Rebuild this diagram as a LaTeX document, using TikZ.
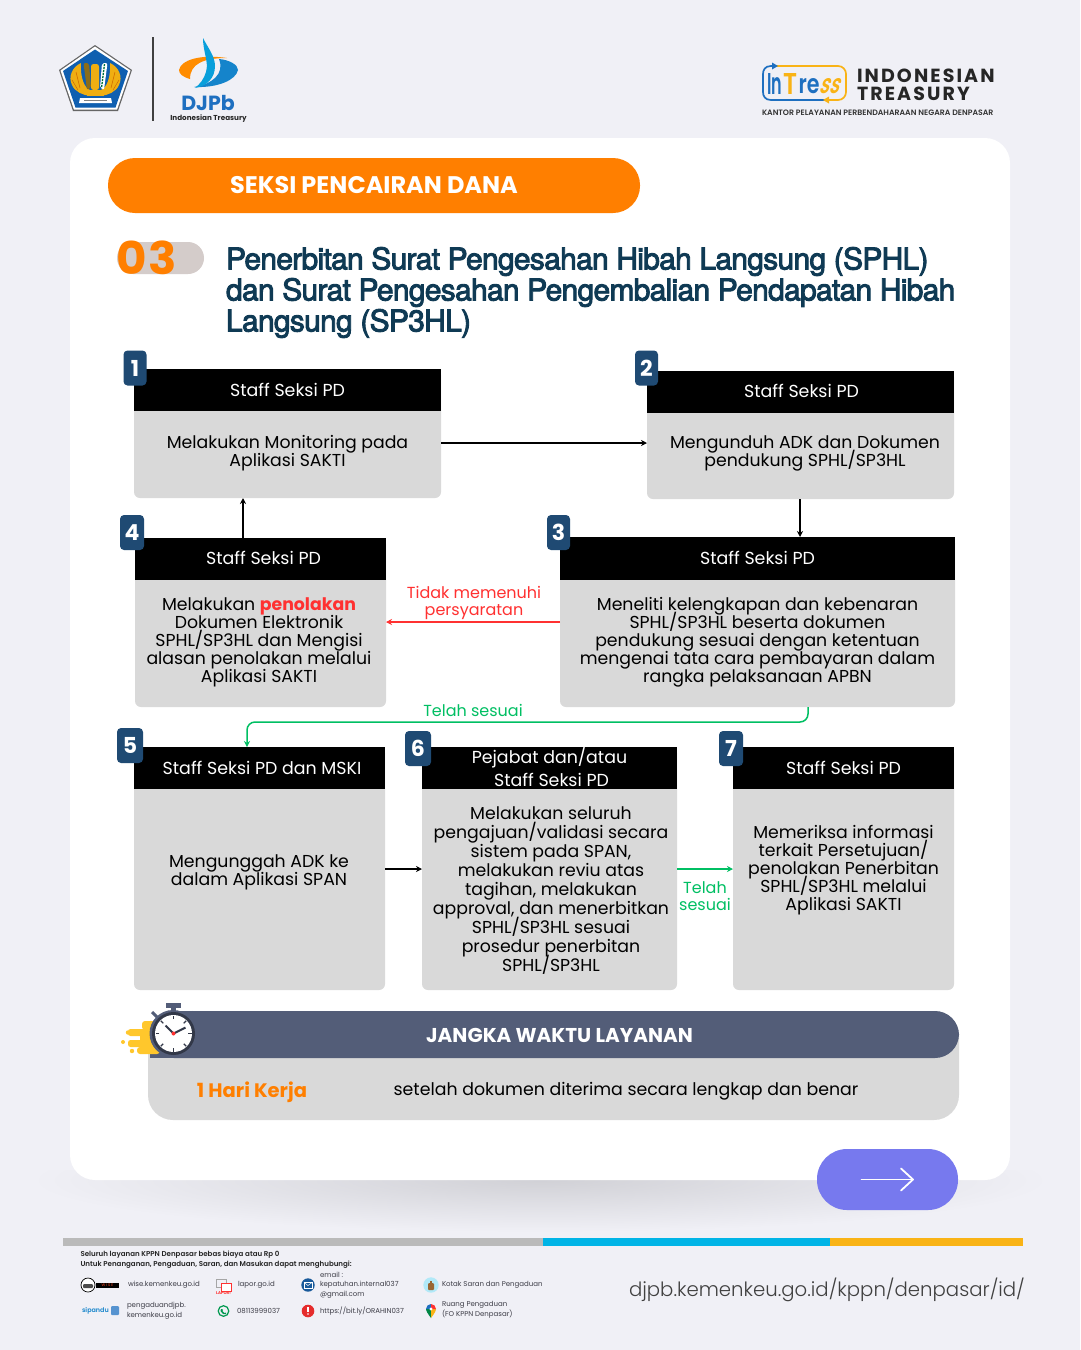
\documentclass[tikz,border=0pt]{standalone}
\usepackage{fontspec}
\setmainfont{Poppins}
\newfontfamily\psemi{Poppins SemiBold}
\newfontfamily\ptitle{TeX Gyre Heros}[LetterSpace=-2.4,FakeBold=3]
\newfontfamily\pbold{Poppins}[UprightFont=* Bold]
\newfontfamily\plight{Poppins Light}
\newfontfamily\pspaced{Poppins}[UprightFont=* Bold,LetterSpace=11]
\usetikzlibrary{arrows.meta}
\definecolor{bgc}{HTML}{F0F0F6}
\definecolor{cardg}{HTML}{D9D9D9}
\definecolor{orng}{HTML}{FF7F00}
\definecolor{navy}{HTML}{1F4A73}
\definecolor{titlec}{HTML}{0F3A54}
\definecolor{slatec}{HTML}{535D78}
\definecolor{grn}{HTML}{00BF63}
\definecolor{redc}{HTML}{FF3131}
\definecolor{violetc}{HTML}{7779EE}
\definecolor{goldc}{HTML}{FFC72C}
\definecolor{blu}{HTML}{1E6FC0}
\definecolor{kblue}{HTML}{0F5FB0}
\definecolor{kgold}{HTML}{EFAE12}
\definecolor{lblue}{HTML}{00B4E6}
\definecolor{ylw}{HTML}{F9B316}
\definecolor{ftxt}{HTML}{3C3C46}
\definecolor{pillc}{HTML}{D4CCCA}
\newcommand{\fs}[2]{\fontsize{#1}{#2}\selectfont\lineskiplimit=-100pt\relax}
\tikzset{
 x=1pt,y=-1pt,
 every node/.style={inner sep=0pt,outer sep=0pt},
 cardbody/.style={fill=cardg,rounded corners=6pt,anchor=north west},
 bodytxt/.style={align=center,font=\fs{17.3}{18},text=black},
 badge/.style={fill=navy,rounded corners=4pt,text=white,font=\pbold\fs{22}{22},minimum width=23pt,minimum height=35pt},
 conn/.style={line width=1.5pt,-{Stealth[length=6pt,width=6pt]}},
 lab/.style={align=center,font=\fs{16}{17}},
 ft/.style={anchor=west,align=left,font=\fs{7}{9.6},text=ftxt},
}
% [head text shift], name, x1, y1, x2, y2, head bottom, head text
\newcommand{\card}[8][]{%
 \node[cardbody,minimum width={#5-#3},minimum height={#6-#4}] (#2) at (#3,#4) {};
 \fill[black] (#3,#4) rectangle (#5,#7);
 \node[text=white,align=center,font=\fs{17.4}{23},#1] (#2h) at ({(#3+#5)/2},{(#4+#7)/2}) {#8};
}
\begin{document}
\begin{tikzpicture}
\useasboundingbox (0,0) rectangle (1080,1350);
\fill[bgc] (0,0) rectangle (1080,1350);
% panel soft shadow below
\begin{scope}
\clip (0,1170) rectangle (1080,1240);
\shade[inner color=black!13!bgc,outer color=bgc] (540,1180) ellipse[x radius=510pt,y radius=52pt];
\end{scope}
\fill[white,rounded corners=25pt] (70,138) rectangle (1010,1180);

% ---- top left logo
\fill[black!60!white] (59,70) -- (95,45) -- (132,70) -- (118,111) -- (73,111) -- cycle;
\fill[white] (60.5,70.5) -- (95,46.5) -- (130.5,70.5) -- (117,109.7) -- (74,109.7) -- cycle;
\fill[kblue] (63,71) -- (95,49.5) -- (128,71) -- (115.5,107.5) -- (75.5,107.5) -- cycle;
\fill[kgold] (81,63) .. controls (72,67) and (68,77) .. (72,85) .. controls (75,92) and (83,95) .. (90,96) -- (90,90) .. controls (84,88) and (80,76) .. (81,63) -- cycle;
\fill[kgold] (110,63) .. controls (119,67) and (123,77) .. (119,85) .. controls (116,92) and (108,95) .. (101,96) -- (101,90) .. controls (107,88) and (111,76) .. (110,63) -- cycle;
\draw[orange!80!black,line width=.5pt] (76,72) -- (80,88) (72,80) -- (78,90) (115,72) -- (111,88) (119,80) -- (113,90);
\fill[goldc!55!black,rounded corners=2pt] (83.5,63) -- (89,63) -- (91,88) -- (87,90) -- cycle;
\fill[kgold,rounded corners=2.5pt] (91,64) rectangle (99,90);
\fill[white,rounded corners=2pt] (102,63) -- (107.5,63) -- (104,90) -- (100,88) -- cycle;
\draw[grn!60!black,line width=1.3pt,dash pattern=on 2pt off 1pt] (104.5,64) -- (101.5,88);
\fill[kgold] (87,90) rectangle (104,96);
\fill[white] (80,98) -- (111,98) -- (112,103) -- (79,103) -- cycle;
\draw[black!50,line width=.8pt] (84,100.5) -- (107,100.5);
\draw[black!75!white,line width=1.6pt] (152.7,37) -- (152.7,121);
% DJPb mark
\fill[orange!90!yellow] (179,70) .. controls (181,60) and (200,54) .. (227,58) .. controls (203,58) and (190,64) .. (190,79) .. controls (183,77) and (179,74) .. (179,70) -- cycle;
\fill[blu!70!lblue] (238,70) .. controls (236,80) and (218,88) .. (194,87) .. controls (212,84) and (225,74) .. (219,59) .. controls (230,60) and (238,65) .. (238,70) -- cycle;
\fill[lblue!70!blu] (203,38) .. controls (203,52) and (209,62) .. (206,72) .. controls (204,79) and (200,84) .. (195,88) .. controls (207,86) and (215,78) .. (215,66) .. controls (215,56) and (208,48) .. (203,38) -- cycle;
\node[font=\pbold\fs{20.5}{20},text=blu] (djpb) at (208,103) {DJPb};
\node[font=\pbold\fs{7.2}{8},text=black!85] (djpbs) at (208.5,118.5) {Indonesian Treasury};
% InTress logo
\draw[blu,line width=1.7pt] (826,100) -- (771,100) .. controls (765,100) and (763,96) .. (763,92) -- (763,74) .. controls (763,70) and (765,66) .. (771,66) -- (775,66);
\draw[ylw,line width=1.7pt] (775,66) -- (838,66) .. controls (843,66) and (846,70) .. (846,74) -- (846,92) .. controls (846,96) and (843,100) .. (838,100) -- (826,100);
\fill[blu] (772,62.5) -- (778,66) -- (772,69.5) -- cycle;
\fill[ylw] (829,96.5) -- (823,100) -- (829,103.5) -- cycle;
\node[font=\psemi,text=blu] (intr1) at (775,84) {\resizebox{15pt}{21pt}{In}};
\node[font=\psemi,text=ylw] (intr2) at (790.5,84) {\resizebox{14pt}{21pt}{T}};
\node[font=\psemi,text=blu] (intr3) at (809,86.5) {\resizebox{21pt}{15pt}{re}};
\node[font=\psemi,text=ylw,xslant=0.35] (intr4) at (831,86.5) {\resizebox{20pt}{15pt}{ss}};
\node[anchor=west,font=\pspaced\fs{19}{19},text=black!85] (indo1) at (857,76) {INDONESIAN};
\node[anchor=west,font=\pspaced\fs{19}{19},text=black!85] (indo2) at (857,94) {TREASURY};
\node[anchor=west,font=\psemi\fs{7.8}{8},text=black!80] (kantor) at (762,112.5) {KANTOR PELAYANAN PERBENDAHARAAN NEGARA DENPASAR};

% ---- heading
\node[fill=orng,rounded corners=27pt,minimum width=532pt,minimum height=55pt,text=white,font=\pbold\fs{24}{24}] (hdr) at (374,185.5) {SEKSI PENCAIRAN DANA};
\node[fill=pillc,rounded corners=16pt,minimum width=87pt,minimum height=32pt] (pill) at (160.5,258) {};
\node[anchor=west,font=\pbold\fs{45}{46},text=orng] (n03) at (116.5,258) {\scalebox{1.04}[1]{0\hspace{1.2pt}3}};
\node[anchor=north west,align=left,font=\ptitle\fs{30}{31},text=titlec] (title) at (226,247) {Penerbitan Surat Pengesahan Hibah Langsung (SPHL)\\dan Surat Pengesahan Pengembalian Pendapatan Hibah\\Langsung (SP3HL)};

% ---- cards
\card[yshift=.5pt]{c1}{134}{369}{441}{498}{411}{Staff Seksi PD}
\card[xshift=1pt,yshift=1.5pt]{c2}{647}{371}{954}{499}{413}{Staff Seksi PD}
\card[yshift=1pt]{c3}{560}{537}{955}{707}{580}{Staff Seksi PD}
\card[xshift=3pt,yshift=1pt]{c4}{135}{538}{386}{707}{580}{Staff Seksi PD}
\card[xshift=2.5pt]{c5}{134}{747}{385}{990}{789}{Staff Seksi PD dan MSKI}
\card[yshift=1pt]{c6}{422}{747}{677}{990}{789}{Pejabat dan/atau\\\hspace*{4pt}Staff Seksi PD}
\card{c7}{733}{747}{954}{990}{789}{Staff Seksi PD}
\node[bodytxt] (t1) at (287.5,453) {Melakukan Monitoring pada\\Aplikasi SAKTI};
\node[bodytxt] (t2) at (805,453) {Mengunduh ADK dan Dokumen\\pendukung SPHL/SP3HL};
\node[bodytxt] (t3) at (757.5,642) {Meneliti kelengkapan dan kebenaran\\SPHL/SP3HL beserta dokumen\\pendukung sesuai dengan ketentuan\\mengenai tata cara pembayaran dalam\\rangka pelaksanaan APBN};
\node[bodytxt] (t4) at (259,642) {Melakukan {\pbold\color{redc}penolakan}\\Dokumen Elektronik\\SPHL/SP3HL dan Mengisi\\alasan penolakan melalui\\Aplikasi SAKTI};
\node[bodytxt] (t5) at (259,872) {Mengunggah ADK ke\\dalam Aplikasi SPAN};
\node[bodytxt,font=\fs{17.3}{19}] (t6) at (551,891) {Melakukan seluruh\\pengajuan/validasi secara\\sistem pada SPAN,\\melakukan reviu atas\\tagihan, melakukan\\approval, dan menerbitkan\\SPHL/SP3HL sesuai\\prosedur penerbitan\\SPHL/SP3HL};
\node[bodytxt] (t7) at (843.5,870) {Memeriksa informasi\\terkait Persetujuan/\\penolakan Penerbitan\\SPHL/SP3HL melalui\\Aplikasi SAKTI};
% badges
\node[badge] (b1) at (135,368) {1};
\node[badge] (b2) at (646.5,368) {2};
\node[badge] (b3) at (558.5,532.5) {3};
\node[badge,minimum width=24pt] (b4) at (132,532.5) {4};
\node[badge,minimum width=26pt] (b5) at (130,745.5) {5};
\node[badge,minimum width=26pt] (b6) at (418,748.5) {6};
\node[badge,minimum width=24pt] (b7) at (731,748.5) {7};
% connectors
\draw[conn] (c1.east|-0,443) -- (c2.west|-0,443);
\draw[conn] (800,0|-c2.south) -- (800,0|-c3.north);
\draw[conn,redc] (c3.west|-0,622) -- (c4.east|-0,622);
\draw[conn] (243,0|-c4.north) -- (243,0|-c1.south);
\draw[conn,grn,rounded corners=8pt] (808,0|-c3.south) -- (808,722) -- (247,722) -- (247,0|-c5.north);
\draw[conn] (c5.east|-0,869) -- (c6.west|-0,869);
\draw[conn,grn] (c6.east|-0,869) -- (c7.west|-0,869);
\node[lab,text=redc] (l1) at (474,603) {Tidak memenuhi\\persyaratan};
\node[lab,text=grn] (l2) at (473,710.5) {Telah sesuai};
\node[lab,text=grn] (l3) at (705,896.5) {Telah\\sesuai};

% ---- service time
\fill[cardg,rounded corners=25pt] (148,1011) rectangle (959,1120);
\fill[slatec,rounded corners=24pt] (150,1011) rectangle (959,1058);
\fill[slatec] (150,1030) rectangle (180,1058);
\node[text=white,font=\pbold\fs{20}{20}] (jw) at (559.5,1035.5) {JANGKA WAKTU LAYANAN};
\node[font=\pbold\fs{19.5}{20},text=orng] (hk) at (252,1092.5) {1 Hari Kerja};
\node[font=\fs{17.35}{20},text=black] (hk2) at (626,1091.5) {setelah dokumen diterima secara lengkap dan benar};
% stopwatch
\fill[goldc,rounded corners=3pt] (142,1021) rectangle (160,1030);
\fill[goldc,rounded corners=2.5pt] (128,1029) rectangle (160,1036);
\fill[goldc,rounded corners=2.5pt] (128,1040) rectangle (160,1047);
\fill[goldc] (140,1034) rectangle (160,1042);
\fill[goldc,rounded corners=3pt] (137,1047) rectangle (160,1054);
\fill[goldc] (123,1042) circle[radius=2pt];
\fill[goldc] (128,1032.5) circle[radius=2.2pt];
\fill[goldc] (132,1051) circle[radius=2.2pt];
\fill[slatec] (166,1003) rectangle (181,1008);
\fill[slatec] (171,1007) rectangle (176,1012);
\draw[slatec,line width=3pt] (152,1012) -- (158,1018);
\draw[slatec,line width=3pt] (194,1012) -- (188,1018);
\fill[slatec] (173,1033.5) circle[radius=23.5pt];
\fill[slatec!60!black] (173.5,1033.5) circle[radius=21.5pt];
\fill[white] (173.5,1033.5) circle[radius=18.5pt];
\foreach \a in {0,45,...,315}{\draw[slatec!60!black,line width=1.1pt] ({173.5+14.5*cos(\a)},{1033.5+14.5*sin(\a)}) -- ({173.5+18*cos(\a)},{1033.5+18*sin(\a)});}
\draw[slatec!60!black,line width=2pt] (173.5,1033.5) -- (165.5,1025.5);
\draw[slatec!60!black,line width=2pt] (173.5,1033.5) -- (185.5,1027.5);
\fill[redc] (173.5,1033.5) circle[radius=2pt];

% ---- next button
\node[fill=violetc,rounded corners=30pt,minimum width=141pt,minimum height=61pt] (nx) at (887.5,1179.5) {};
\coordinate (nxa) at (861.5,1179.5);
\coordinate (nxb) at (913,1179.5);
\draw[white,line width=1.8pt,line cap=round] (nxa) -- (nxb);
\draw[white,line width=1.8pt,line cap=round,line join=round] (901,1168.5) -- (913,1179.5) -- (901,1190.5);

% ---- footer
\fill[black!27] (63,1238) rectangle (543,1246);
\fill[lblue] (543,1238) rectangle (830,1246);
\fill[ylw] (830,1238) rectangle (1023,1246);
\node[anchor=west,font=\psemi\fs{7.08}{7},text=black!85] (f1) at (80.5,1254.5) {Seluruh layanan KPPN Denpasar bebas biaya atau Rp 0};
\node[anchor=west,font=\psemi\fs{7.08}{7},text=black!85] (f2) at (80.5,1264.5) {Untuk Penanganan, Pengaduan, Saran, dan Masukan dapat menghubungi:};
\node[ft] (g1) at (128,1285) {wise.kemenkeu.go.id};
\node[ft] (g2) at (238,1285) {lapor.go.id};
\node[ft] (g3) at (320,1285) {email :\\kepatuhan.internal037\\@gmail.com};
\node[ft] (g4) at (442,1285) {Kotak Saran dan Pengaduan};
\node[ft] (g5) at (127,1310.5) {pengaduandjpb.\\kemenkeu.go.id};
\node[ft] (g6) at (237,1311) {08113999037};
\node[ft] (g7) at (320,1311) {https://bit.ly/ORAHIN037};
\node[ft] (g8) at (442,1310) {Ruang Pengaduan\\(FO KPPN Denpasar)};
\node[anchor=west,font=\plight\fs{19.7}{22},text=black!75] (url) at (629,1289.5) {djpb.kemenkeu.go.id/kppn/denpasar/id/};
% footer icons
\fill[black] (96,1282.5) rectangle (119,1288);
\node[font=\fs{3.8}{4},text=redc!70!orange] (wz) at (107.5,1285.3) {W I S E};
\draw[black,fill=white,line width=.7pt] (88,1285) circle[radius=7pt];
\fill[black!70,rounded corners=1pt] (83,1284) rectangle (93,1288);
\draw[black!35,line width=1pt] (216,1279) rectangle (226,1287);
\fill[white] (221,1283) rectangle (232,1291);
\draw[redc,line width=1pt] (221,1283) rectangle (231,1291);
\node[font=\pbold\fs{4}{4},text=redc] (lp) at (223.5,1293.5) {LAPOR!};
\fill[blu!80!black] (308,1285) circle[radius=6.7pt];
\draw[white,line width=.6pt] (304,1282.5) rectangle (312,1288);
\draw[white,line width=.5pt] (304,1282.5) -- (308,1285.5) -- (312,1282.5);
\fill[lblue!30] (431,1285) circle[radius=7.7pt];
\fill[brown!80!black,rounded corners=1pt] (428,1283) rectangle (434,1290);
\fill[brown!80!black] (430,1280.5) rectangle (432,1283);
\node[font=\psemi\fs{6.4}{7},text=blu!70!lblue,anchor=west] (sp) at (82,1310.5) {sipandu};
\fill[blu!75!white,rounded corners=1pt] (111,1306) rectangle (119,1315);
\draw[grn!80!black,line width=1.2pt] (223.5,1311) circle[radius=5.3pt];
\fill[grn!80!black] (221,1309) -- (223,1309.5) -- (222.5,1311) -- (224.5,1313) -- (226,1312.5) -- (226,1314) -- (223,1314) -- (220.5,1311) -- cycle;
\fill[redc!90!black] (308,1311) circle[radius=6.3pt];
\fill[white] (307.4,1307) rectangle (308.6,1312);
\fill[white] (308,1314) circle[radius=.8pt];
\fill[grn!70!black] (431,1318) .. controls (428,1314) and (426,1311) .. (426,1309) -- (431,1309) -- cycle;
\fill[ylw] (431,1318) .. controls (434,1314) and (436,1311) .. (436,1309) -- (431,1309) -- cycle;
\fill[blu] (426,1309) arc[start angle=180,end angle=90,radius=5pt] -- (431,1309) -- cycle;
\fill[redc] (436,1309) arc[start angle=0,end angle=90,radius=5pt] -- (431,1309) -- cycle;
\fill[white] (431,1309) circle[radius=1.6pt];
\end{tikzpicture}
\end{document}
